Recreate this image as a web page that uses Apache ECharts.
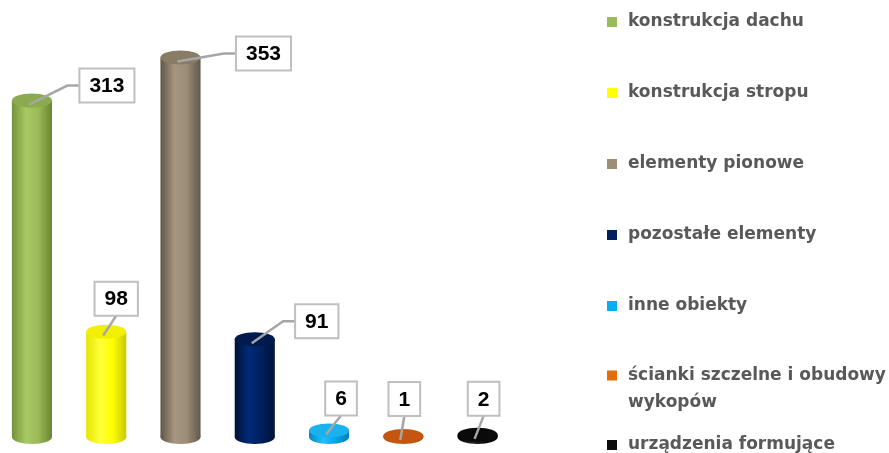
<!DOCTYPE html>
<html>
<head>
<meta charset="utf-8">
<title>chart</title>
<script src="https://cdn.jsdelivr.net/npm/echarts@6/dist/echarts.min.js"></script>
<style>
  html, body { margin: 0; padding: 0; background: #fff; }
  #chart { width: 889px; height: 453px; }
</style>
</head>
<body>
<div id="chart"></div>
<script>
// dane
var categories = ["konstrukcja dachu", "konstrukcja stropu", "elementy pionowe", "pozostałe elementy",
  "inne obiekty", "ścianki szczelne i obudowy wykopów", "urządzenia formujące"];
var values = [313, 98, 353, 91, 6, 1, 2];

// kolory legendy
var legendColors = ["#9bbb59", "#ffff00", "#9d8f76", "#002060", "#00b0f0", "#e46c0a", "#0d0d0d"];
// cieniowanie walca: [krawedz lewa, swiatlo, srodek, krawedz prawa, gorna pokrywa]
var shades = [
  ["#74913a", "#a8c862", "#9cbb58", "#69852f", "#8cab4e"],
  ["#e6e600", "#ffff3a", "#ffff00", "#c9c900", "#f0f000"],
  ["#5f5646", "#a69680", "#9c8d76", "#62594a", "#887c66"],
  ["#001236", "#002a78", "#002060", "#00133a", "#001a4e"],
  ["#0088c0", "#22c0f8", "#00a8e8", "#0080b6", "#1ab2ee"],
  ["#a84a0c", "#d26418", "#c55a11", "#9c440a", "#c4560f"],
  ["#000000", "#222222", "#111111", "#000000", "#0a0a0a"]
];
// przesuniecie etykiety wzgledem wierzcholka slupka
var labelOffsets = [[75, -15], [10, -33], [83, -4], [62, -18], [12, -32], [1, -37], [6, -36]];

var labelFont = 'bold 21px "Liberation Sans", Arial, sans-serif';
var measureCtx = document.createElement("canvas").getContext("2d");
function textWidth(t) {
  measureCtx.font = labelFont;
  return measureCtx.measureText(t).width;
}

function renderCylinder(params, api) {
  var idx = params.seriesIndex;
  var sh = shades[idx];
  var v = api.value(1);
  var top = api.coord([api.value(0), v]);
  var base = api.coord([api.value(0), 0]);
  var w = api.size([1, 0])[0] * 0.54;
  var cx = top[0], ty = top[1], by = base[1];
  var ry = 7;

  var grad = new echarts.graphic.LinearGradient(0, 0, 1, 0, [
    { offset: 0, color: sh[0] },
    { offset: 0.35, color: sh[1] },
    { offset: 0.65, color: sh[2] },
    { offset: 1, color: sh[3] }
  ]);

  // etykieta z linia odniesienia
  var txt = String(v);
  var bw = textWidth(txt) + 20;
  var bh = 34;
  var off = labelOffsets[idx];
  var bx = cx + off[0], bcy = ty + off[1];
  var sx = cx - 3, sy = ty + 4;
  var pts;
  if (off[0] > 30) {
    var left = bx - bw / 2;
    pts = [[sx, sy], [left - 12, bcy], [left, bcy]];
  } else {
    pts = [[sx, sy], [bx, bcy + bh / 2]];
  }

  return {
    type: "group",
    children: [
      { type: "ellipse", shape: { cx: cx, cy: by, rx: w / 2, ry: ry }, style: { fill: grad } },
      { type: "rect", shape: { x: cx - w / 2, y: ty, width: w, height: Math.max(by - ty, 0) }, style: { fill: grad } },
      { type: "ellipse", shape: { cx: cx, cy: ty, rx: w / 2, ry: ry }, style: { fill: sh[4] } },
      { type: "polyline", shape: { points: pts }, style: { stroke: "#a6a6a6", lineWidth: 2.5, fill: null } },
      {
        type: "rect",
        shape: { x: bx - bw / 2, y: bcy - bh / 2, width: bw, height: bh },
        style: { fill: "#ffffff", stroke: "#bfbfbf", lineWidth: 2 }
      },
      {
        type: "text",
        x: bx, y: bcy + 1,
        style: { text: txt, font: labelFont, fill: "#000", align: "center", verticalAlign: "middle" }
      }
    ]
  };
}

var chart = echarts.init(document.getElementById("chart"));

var series = categories.map(function (name, i) {
  return {
    name: name,
    type: "custom",
    renderItem: renderCylinder,
    itemStyle: { color: legendColors[i] },
    data: [[i, values[i]]],
    clip: false
  };
});

var legendText = {
  color: "#595959",
  fontFamily: "DejaVu Sans",
  fontWeight: "bold",
  fontSize: 17,
  lineHeight: 20,
  padding: [0, 0, 0, 6]
};

function legendBlock(top, names, extra) {
  return Object.assign({
    orient: "vertical",
    left: 602,
    top: top,
    itemWidth: 10,
    itemHeight: 10,
    itemGap: 51,
    icon: "rect",
    data: names,
    textStyle: legendText
  }, extra || {});
}

var option = {
  animation: false,
  grid: { left: 0, right: 375, top: 7, bottom: 16 },
  xAxis: { type: "value", min: -0.43, max: 6.49, show: false },
  yAxis: { type: "value", min: 0, max: 400, show: false },
  legend: [
    legendBlock(7, categories.slice(0, 5)),
    // zawinieta pozycja: pusta linia nad tekstem, zeby ikona stala przy pierwszej linii
    legendBlock(330, [categories[5]], {
      formatter: function () {
        return "\nścianki szczelne i obudowy\nwykopów";
      },
      textStyle: Object.assign({}, legendText, { lineHeight: 27 })
    }),
    legendBlock(430, categories.slice(6))
  ],
  series: series
};

chart.setOption(option);
</script>
</body>
</html>
